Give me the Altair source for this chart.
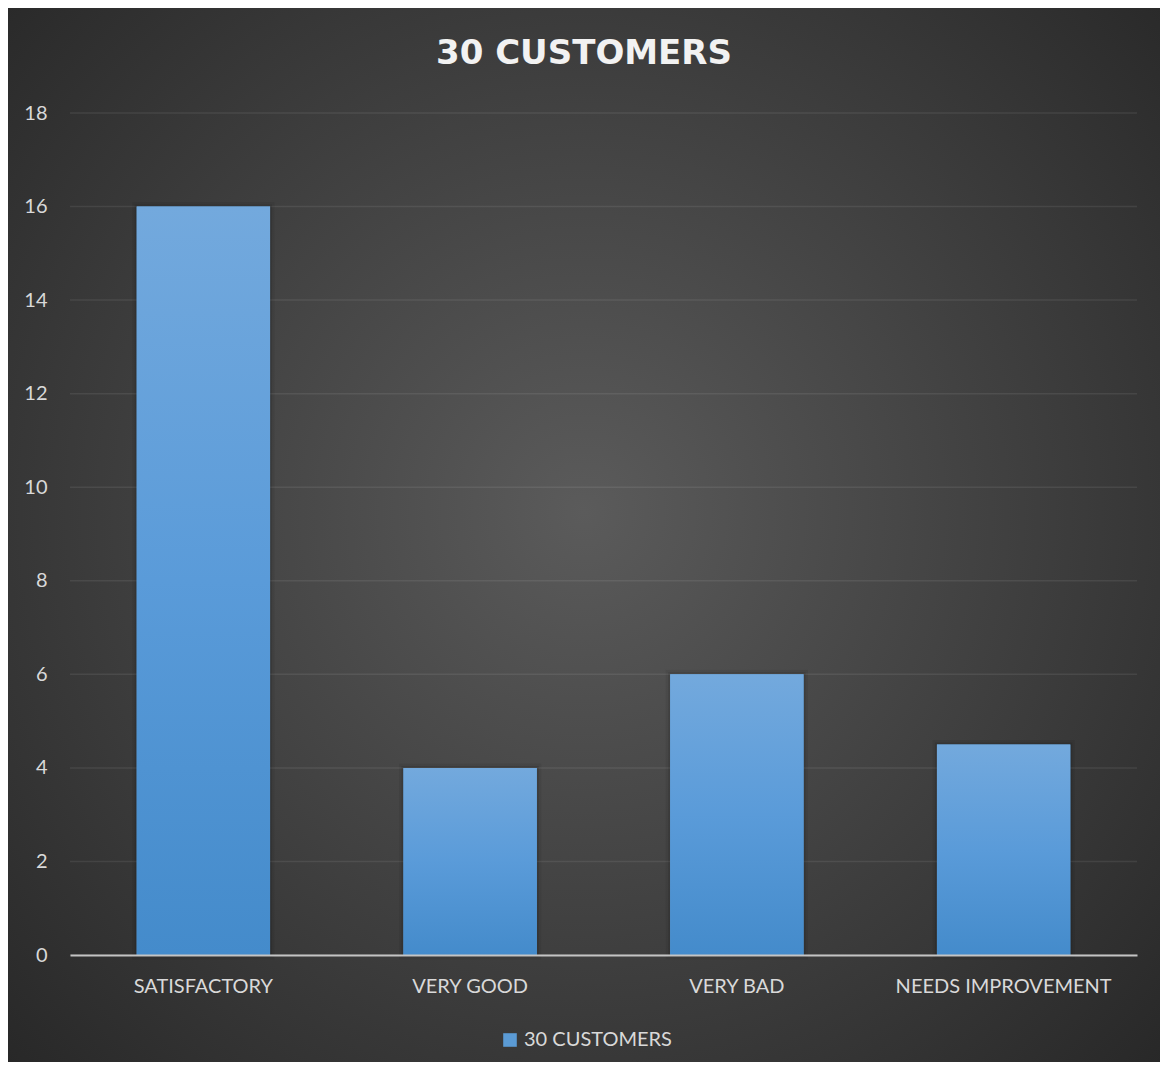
import altair as alt
import pandas as pd

categories = ["SATISFACTORY", "VERY GOOD", "VERY BAD", "NEEDS IMPROVEMENT"]
values = [16, 4, 6, 4.5]
series_name = "30 CUSTOMERS"
y_ticks = [0, 2, 4, 6, 8, 10, 12, 14, 16, 18]

W, H = 1067, 842

df = pd.DataFrame({"category": categories, "value": values, "series": [series_name] * len(categories)})
grid_df = pd.DataFrame({"value": y_ticks})
bg_df = pd.DataFrame({"a": [0]})

FONT = "Lato"
LABEL = "#d9d9d9"
LSIZE = 20

y_scale = alt.Scale(domain=[0, 18], nice=False)
y_axis = alt.Axis(
    title=None, values=y_ticks, ticks=False, domain=False, grid=False,
    labelPadding=23, labelFont=FONT, labelFontSize=LSIZE, labelColor=LABEL, zindex=1,
)

x_enc = alt.X(
    "category:N",
    sort=categories,
    scale=alt.Scale(paddingInner=0.5, paddingOuter=0.25),
    axis=alt.Axis(
        title=None, ticks=False, labelAngle=0, labelPadding=21, labelLimit=0,
        labelFont=FONT, labelFontSize=LSIZE, labelColor=LABEL,
        domainColor="#c4c4c4", domainWidth=2, zindex=1,
    ),
)
y_enc = alt.Y("value:Q", scale=y_scale, axis=y_axis)

bg = alt.Chart(bg_df).mark_rect(
    color=alt.RadialGradient(
        gradient="radial",
        stops=[alt.GradientStop(color="#5b5b5b", offset=0), alt.GradientStop(color="#262626", offset=1)],
        x1=0.5, y1=0.48, r1=0, x2=0.5, y2=0.48, r2=0.72,
    )
).encode(x=alt.value(-62), x2=alt.value(1090), y=alt.value(-105), y2=alt.value(949))

grid = alt.Chart(grid_df).mark_rule(color="white", opacity=0.08, strokeWidth=1.5).encode(
    y=alt.Y("value:Q", scale=y_scale, axis=y_axis)
)

shadow1 = alt.Chart(df).mark_bar(
    fillOpacity=0, stroke="black", strokeWidth=9, strokeOpacity=0.06
).encode(x=x_enc, y=y_enc)
shadow2 = alt.Chart(df).mark_bar(
    fillOpacity=0, stroke="black", strokeWidth=4, strokeOpacity=0.1
).encode(x=x_enc, y=y_enc)

flat = alt.Chart(df).mark_bar().encode(
    x=x_enc, y=y_enc,
    color=alt.Color(
        "series:N",
        scale=alt.Scale(domain=[series_name], range=["#5b9bd5"]),
        legend=alt.Legend(
            title=None, orient="none", legendX=430, legendY=917, padding=0,
            symbolType="square", symbolSize=185, symbolStrokeWidth=0, labelOffset=4,
            labelFont=FONT, labelFontSize=LSIZE, labelColor=LABEL, zindex=1,
        ),
    ),
)

grad = alt.Chart(df).mark_bar(
    color=alt.LinearGradient(
        gradient="linear",
        stops=[
            alt.GradientStop(color="#73a9dd", offset=0),
            alt.GradientStop(color="#5a9bd9", offset=0.5),
            alt.GradientStop(color="#448bcb", offset=1),
        ],
        x1=0, x2=0, y1=0, y2=1,
    )
).encode(x=x_enc, y=y_enc)

chart = alt.layer(bg, grid, shadow1, shadow2, flat, grad).properties(
    width=W, height=H, padding=0,
    background="#262626",
    title=alt.TitleParams(
        text=series_name, font="DejaVu Sans", fontWeight="bold", fontSize=34,
        color="#f2f2f2", anchor="middle", frame="bounds", offset=-63, zindex=1,
    ),
).configure_view(stroke="transparent")

chart.save("out.html", embed_options={"renderer": "svg", "actions": False})
